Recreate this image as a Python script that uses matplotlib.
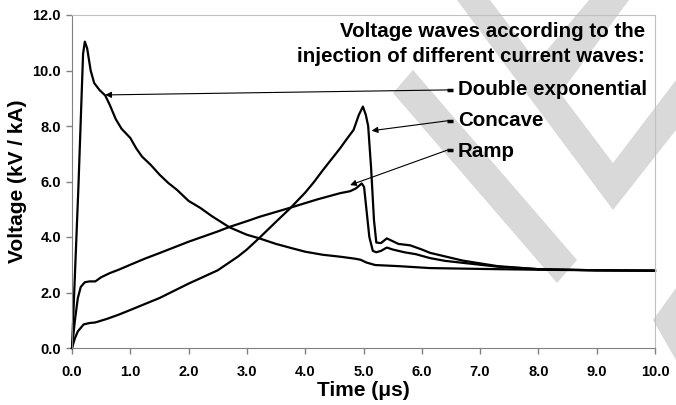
import matplotlib
matplotlib.use("Agg")
import matplotlib.pyplot as plt
from matplotlib.patches import Polygon

plt.rcParams['font.family'] = ['Liberation Sans', 'DejaVu Sans']
plt.rcParams['font.weight'] = 'bold'

# --- data ---
t_dexp = [0.0, 0.11, 0.19, 0.22, 0.26, 0.32, 0.38, 0.47, 0.57, 0.65, 0.75, 0.85, 1.0,
          1.1, 1.2, 1.35, 1.5, 1.65, 1.8, 2.0, 2.2, 2.4, 2.7, 3.0, 3.2, 3.5, 3.8, 4.0,
          4.3, 4.6, 4.85, 4.95, 5.05, 5.2, 5.6, 6.14, 7.0, 8.0, 9.0, 10.0]
v_dexp = [0.0, 5.8, 10.6, 11.04, 10.8, 10.0, 9.55, 9.3, 9.1, 8.75, 8.25, 7.9, 7.57,
          7.2, 6.9, 6.6, 6.25, 5.95, 5.7, 5.3, 5.05, 4.75, 4.35, 4.08, 3.96, 3.75, 3.58, 3.47,
          3.36, 3.29, 3.22, 3.18, 3.08, 2.99, 2.95, 2.88, 2.85, 2.82, 2.8, 2.78]

t_ramp = [0.0, 0.05, 0.1, 0.15, 0.22, 0.3, 0.4, 0.5, 0.65, 0.8, 1.0, 1.25, 1.5, 2.0,
          2.5, 2.71, 3.0, 3.22, 3.72, 4.2, 4.6, 4.77, 4.87, 4.97, 5.01, 5.05, 5.1, 5.16,
          5.22, 5.3, 5.4, 5.5, 5.7, 5.9, 6.14, 6.4, 6.7, 7.0, 7.3, 8.0, 9.0, 10.0]
v_ramp = [0.0, 1.0, 1.8, 2.2, 2.37, 2.4, 2.4, 2.55, 2.7, 2.82, 3.0, 3.22, 3.42, 3.83,
          4.2, 4.37, 4.57, 4.73, 5.04, 5.35, 5.58, 5.65, 5.75, 5.93, 5.8, 5.0, 4.0, 3.5,
          3.45, 3.5, 3.62, 3.55, 3.45, 3.38, 3.24, 3.14, 3.07, 3.0, 2.93, 2.84, 2.8, 2.79]

t_conc = [0.0, 0.05, 0.1, 0.2, 0.3, 0.4, 0.6, 0.8, 1.0, 1.5, 2.0, 2.5, 2.71, 2.85, 3.0,
          3.22, 3.5, 3.74, 4.0, 4.15, 4.3, 4.45, 4.6, 4.72, 4.83, 4.92, 4.99, 5.04, 5.08,
          5.13, 5.18, 5.22, 5.3, 5.4, 5.5, 5.6, 5.8, 6.0, 6.14, 6.4, 6.7, 7.0, 7.3, 8.0,
          9.0, 10.0]
v_conc = [0.0, 0.35, 0.6, 0.85, 0.9, 0.92, 1.05, 1.2, 1.37, 1.8, 2.32, 2.8, 3.1, 3.3, 3.55,
          3.98, 4.55, 5.03, 5.6, 5.98, 6.4, 6.8, 7.2, 7.55, 7.86, 8.4, 8.7, 8.4, 8.0,
          6.5, 4.6, 3.8, 3.78, 3.95, 3.85, 3.75, 3.7, 3.55, 3.43, 3.3, 3.15, 3.05, 2.95, 2.84,
          2.8, 2.79]

xticks = [0, 1, 2, 3, 4, 5, 6, 7, 8, 9, 10]
yticks = [0, 2, 4, 6, 8, 10, 12]

labels = ['Double exponential', 'Concave', 'Ramp']
label_xy = [(6.62, 9.12), (6.62, 8.0), (6.62, 6.9)]      # text baseline start
tail_xy = [(6.45, 9.30), (6.45, 8.19), (6.45, 7.14)]     # leader line start
head_xy = [(0.57, 9.12), (5.14, 7.83), (4.77, 5.87)]     # arrow tips on curves

title_lines = ['Voltage waves according to the',
               'injection of different current waves:']

W, H = 676, 405
fig = plt.figure(figsize=(W / 100, H / 100), dpi=100)

# light grey "V" watermark in the background (pixel outlines)
watermark = [
    [(457, 0), (490, 0), (613, 163), (676, 80), (676, 130), (613, 210)],
    [(589, 0), (629, 0), (548, 110), (522, 80)],
    [(393, 93), (413, 70), (577, 260), (557, 283)],
    [(653, 320), (676, 288), (676, 360)],
]
for poly in watermark:
    pts = [(x / W, 1 - y / H) for x, y in poly]
    fig.patches.append(Polygon(pts, closed=True, transform=fig.transFigure,
                               facecolor='#d9d9d9', edgecolor='none', zorder=-5))

ax = fig.add_axes([72 / W, 1 - 348 / H, (655 - 72) / W, (348 - 15) / H])
ax.set_facecolor('none')

for t, v in [(t_dexp, v_dexp), (t_ramp, v_ramp), (t_conc, v_conc)]:
    ax.plot(t, v, color='black', lw=1.6, solid_joinstyle='round', clip_on=False)

ax.set_xlim(0, 10)
ax.set_ylim(0, 12)
ax.set_xticks(xticks)
ax.set_yticks(yticks)
ax.set_xticklabels([f'{x:.1f}' for x in xticks], fontweight='bold')
ax.set_yticklabels([f'{y:.1f}' for y in yticks], fontweight='bold')
ax.tick_params(axis='both', direction='out', length=4, width=1, colors='#808080',
               labelcolor='black', labelsize=10.5)
ax.tick_params(axis='x', pad=8)
ax.tick_params(axis='y', pad=4)

for side in ['top', 'right']:
    ax.spines[side].set_color('#c0c0c0')
for side in ['left', 'bottom']:
    ax.spines[side].set_color('#808080')

ax.set_xlabel('Time (μs)', fontsize=15, fontweight='bold', labelpad=2)
ax.set_ylabel('Voltage (kV / kA)', fontsize=15, fontweight='bold', labelpad=4)

# annotation block
ax.text(9.83, 11.22, title_lines[0], ha='right', va='baseline', fontsize=14.8, fontweight='bold')
ax.text(9.83, 10.32, title_lines[1], ha='right', va='baseline', fontsize=14.8, fontweight='bold')

for lab, lxy, txy, hxy in zip(labels, label_xy, tail_xy, head_xy):
    ax.text(lxy[0], lxy[1], lab, ha='left', va='baseline', fontsize=14.8, fontweight='bold')
    ax.annotate('', xy=hxy, xytext=txy,
                arrowprops=dict(arrowstyle='-|>', color='black', lw=0.8,
                                mutation_scale=9, shrinkA=0, shrinkB=0))
    ax.plot([txy[0] + 0.04], [txy[1]], marker='_', ms=5, mew=2.5, color='black')

fig.savefig('out.png', dpi=100)
